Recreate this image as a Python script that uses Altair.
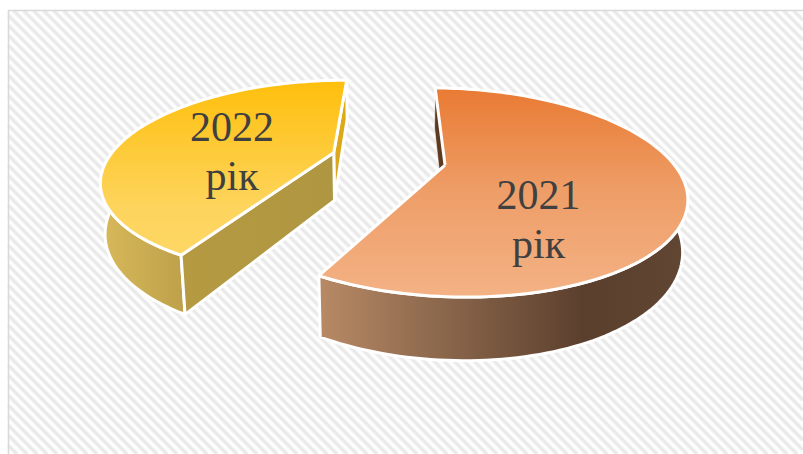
import math

import altair as alt
import pandas as pd

# Pie values
years = ["2021", "2022"]
shares = [0.578, 0.422]
label_lines = {"2021": ["2021", "рік"], "2022": ["2022", "рік"]}

# Canvas and perspective camera for the tilted pie
W, H = 803, 454
X0, Y0 = 385.5, 165.0
SCALE_U, SCALE_V = 229.4, 97.3
PERSPECTIVE = 0.263
DEPTH_Y, DEPTH_W = 50.0, 0.016
ROTATION = 0.8
EXPLODE = 0.255
ORIGIN_U, ORIGIN_V = 0.013, -0.065

x_scale = alt.Scale(domain=[0, W], range=[0, W], nice=False, zero=False)
y_scale = alt.Scale(domain=[0, H], range=[0, H], nice=False, zero=False)
x_enc = alt.X("x:Q", scale=x_scale, axis=None)
y_enc = alt.Y("y:Q", scale=y_scale, axis=None)


def project(u, v, z=0.0):
    w = 1 - PERSPECTIVE * v + DEPTH_W * z
    return X0 + SCALE_U * u / w, Y0 + (SCALE_V * v + DEPTH_Y * z) / w


def slice_geometry(start, end):
    mid = math.radians((start + end) / 2)
    cu = ORIGIN_U + EXPLODE * math.sin(mid)
    cv = ORIGIN_V - EXPLODE * math.cos(mid)

    def rim(deg, z=0.0):
        t = math.radians(deg)
        return project(cu + math.sin(t), cv - math.cos(t), z)

    def apex(z=0.0):
        return project(cu, cv, z)

    return rim, apex


def sweep(a, b, n=90):
    return [a + (b - a) * i / n for i in range(n + 1)]


def gradient(stops, horizontal=False):
    return alt.Gradient(
        gradient="linear",
        stops=[alt.GradientStop(offset=o, color=c) for o, c in stops],
        x1=0, y1=0,
        x2=1 if horizontal else 0,
        y2=0 if horizontal else 1,
    )


def polygon(points, fill, stroke_width=3.0):
    closed = points + [points[0]]
    frame = pd.DataFrame(
        {"i": range(len(closed)), "x": [p[0] for p in closed], "y": [p[1] for p in closed]}
    )
    return alt.Chart(frame).mark_line(
        fill=fill, stroke="white", strokeWidth=stroke_width, strokeJoin="round"
    ).encode(x=x_enc, y=y_enc, order="i:Q")


# Slice angles, clockwise from the back of the pie
start_2021 = ROTATION
end_2021 = start_2021 + 360 * shares[0]
end_2022 = end_2021 + 360 * shares[1]

rim_a, apex_a = slice_geometry(start_2021, end_2021)
rim_b, apex_b = slice_geometry(end_2021, end_2022)

# Hatched backdrop panel
PANEL_L, PANEL_T = 8.5, 10.5
stripe_rows = []
for c in range(-W, H, 10):
    x1 = max(PANEL_L, PANEL_T - c)
    x2 = min(W, H - c)
    if x2 > x1:
        stripe_rows.append({"x": x1, "y": x1 + c, "x2": x2, "y2": x2 + c})
stripes = pd.DataFrame(stripe_rows)
stripe_enc = dict(x=x_enc, y=y_enc, x2="x2:Q", y2="y2:Q")
stripes_soft = alt.Chart(stripes).mark_rule(color="#EBEBEB", strokeWidth=5, opacity=0.5).encode(**stripe_enc)
stripes_core = alt.Chart(stripes).mark_rule(color="#E3E3E3", strokeWidth=2.2, opacity=0.75).encode(**stripe_enc)
panel_border = alt.Chart(pd.DataFrame({"x": [PANEL_L], "y": [PANEL_T], "x2": [W + 3], "y2": [H + 3]})).mark_rect(
    fill=None, stroke="#D9D9D9", strokeWidth=1.6
).encode(x=x_enc, y=y_enc, x2="x2:Q", y2="y2:Q")

# 2022 slice: cut faces, outer wall, top
gold_wall = polygon(
    [rim_b(end_2022), rim_b(end_2022, 1), apex_b(1), apex_b()],
    gradient([(0, "#E0AC14"), (1, "#D8A422")]),
)
olive_wall = polygon(
    [apex_b(), rim_b(end_2021), rim_b(end_2021, 1), apex_b(1)],
    gradient([(0, "#B59A42"), (1, "#AF9640")], horizontal=True),
)
outer_b = [rim_b(d) for d in sweep(end_2021, 284)] + [rim_b(d, 1) for d in sweep(284, end_2021)]
yellow_wall = polygon(outer_b, gradient([(0, "#D8B95A"), (1, "#BDA04A")], horizontal=True))
top_b = polygon(
    [apex_b()] + [rim_b(d) for d in sweep(end_2021, end_2022)],
    gradient([(0, "#FEBF0C"), (0.72, "#FDD45C"), (1, "#FDD765")]),
)

# 2021 slice: inner face, outer wall, top
inner_a = polygon(
    [rim_a(start_2021), rim_a(start_2021, 1), apex_a(1), apex_a()],
    "#5E3A1E",
    stroke_width=0.6,
)
outer_a = [rim_a(d) for d in sweep(74, end_2021)] + [rim_a(d, 1) for d in sweep(end_2021, 74)]
brown_wall = polygon(
    outer_a,
    gradient([(0, "#B88A66"), (0.3, "#8F6A4E"), (0.72, "#5B3F2D"), (1, "#624634")], horizontal=True),
)
top_a = polygon(
    [apex_a()] + [rim_a(d) for d in sweep(start_2021, end_2021, 140)],
    gradient([(0, "#E97A33"), (0.5, "#EE9E68"), (1, "#F4B285")]),
)

# Two-line year labels on the slices
label_anchor = {"2021": (538.5, 209.0), "2022": (232.0, 141.0)}
LINE_STEP = 49.0
label_rows = []
for year in years:
    ax, ay = label_anchor[year]
    for n, text in enumerate(label_lines[year]):
        label_rows.append({"x": ax, "y": ay + n * LINE_STEP, "text": text})
labels = alt.Chart(pd.DataFrame(label_rows)).mark_text(
    font="Liberation Serif", fontSize=42, color="#404040", align="center", baseline="alphabetic"
).encode(x=x_enc, y=y_enc, text="text:N")

chart = alt.layer(
    stripes_soft, stripes_core, panel_border,
    gold_wall, yellow_wall, olive_wall, top_b,
    inner_a, brown_wall, top_a,
    labels,
).properties(
    width=W, height=H, padding=0, autosize=alt.AutoSizeParams(type="none"), background="white"
).configure_view(stroke=None)

chart.save("out.html", embed_options={"renderer": "svg", "actions": False})
